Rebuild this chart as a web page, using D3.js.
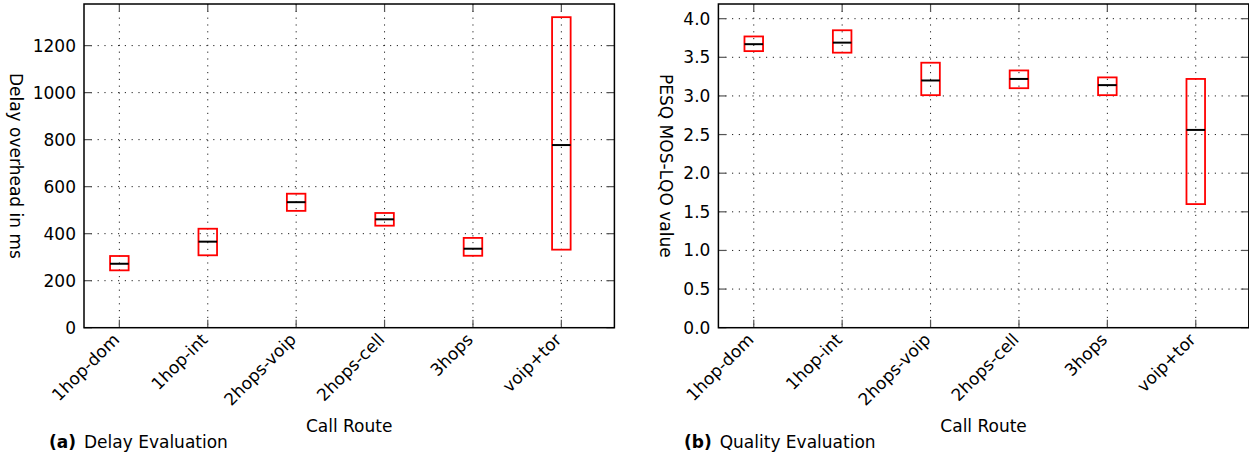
<!DOCTYPE html>
<html>
<head>
<meta charset="UTF-8">
<title>Call route evaluation</title>
<script src="https://d3js.org/d3.v7.min.js"></script>
<style>
    body { margin: 0; background: #fff; }
    svg text { font-family: "DejaVu Sans", sans-serif; fill: #000; }
</style>
</head>
<body>
<svg id="chart" width="1249" height="458"></svg>
<script>
    var routes = ['1hop-dom', '1hop-int', '2hops-voip', '2hops-cell', '3hops', 'voip+tor'];

    // delay overhead (ms): lower quartile, median, upper quartile
    var delayLow = [244, 308, 497, 434, 306, 332];
    var delayMed = [272, 366, 534, 461, 336, 777];
    var delayHigh = [305, 421, 570, 488, 382, 1321];
    var delayTicks = [0, 200, 400, 600, 800, 1000, 1200];

    // PESQ MOS-LQO
    var mosLow = [3.58, 3.56, 3.01, 3.10, 3.01, 1.60];
    var mosMed = [3.67, 3.69, 3.20, 3.22, 3.14, 2.56];
    var mosHigh = [3.77, 3.85, 3.43, 3.33, 3.24, 3.22];
    var mosTicks = [0, 0.5, 1, 1.5, 2, 2.5, 3, 3.5, 4];

    var svg = d3.select('#chart');
    var plotW = 530.4, plotTop = 4, plotBottom = 327.7;
    var fs = '17px';

    function panel(opt) {
        var g = svg.append('g');
        var x = d3.scaleLinear().domain([0.6, 6.6]).range([opt.left, opt.left + plotW]);
        var y = d3.scaleLinear().domain([0, opt.ymax]).range([plotBottom, plotTop]);
        var idx = d3.range(1, routes.length + 1);

        // grid
        g.selectAll('.hgrid').data(opt.ticks.slice(1)).enter().append('line')
            .attr('x1', opt.left).attr('x2', opt.left + plotW)
            .attr('y1', function (d) { return y(d); }).attr('y2', function (d) { return y(d); })
            .attr('stroke', '#222').attr('stroke-width', 1).attr('stroke-dasharray', '1.2,5.6');
        g.selectAll('.vgrid').data(idx).enter().append('line')
            .attr('x1', function (d) { return x(d); }).attr('x2', function (d) { return x(d); })
            .attr('y1', plotTop).attr('y2', plotBottom)
            .attr('stroke', '#222').attr('stroke-width', 1).attr('stroke-dasharray', '1.2,5.6');

        // inward ticks on all sides
        opt.ticks.forEach(function (t) {
            g.append('line').attr('x1', opt.left).attr('x2', opt.left + 8)
                .attr('y1', y(t)).attr('y2', y(t)).attr('stroke', '#555').attr('stroke-width', 1.2);
            g.append('line').attr('x1', opt.left + plotW).attr('x2', opt.left + plotW - 8)
                .attr('y1', y(t)).attr('y2', y(t)).attr('stroke', '#555').attr('stroke-width', 1.2);
        });
        idx.forEach(function (i) {
            g.append('line').attr('x1', x(i)).attr('x2', x(i))
                .attr('y1', plotBottom).attr('y2', plotBottom - 8).attr('stroke', '#555').attr('stroke-width', 1.2);
            g.append('line').attr('x1', x(i)).attr('x2', x(i))
                .attr('y1', plotTop).attr('y2', plotTop + 8).attr('stroke', '#555').attr('stroke-width', 1.2);
        });

        // boxes
        var bw = 0.21;
        g.selectAll('.box').data(idx).enter().append('rect')
            .attr('x', function (d) { return x(d - bw / 2); })
            .attr('width', x(bw) - x(0))
            .attr('y', function (d) { return y(opt.high[d - 1]); })
            .attr('height', function (d) { return y(opt.low[d - 1]) - y(opt.high[d - 1]); })
            .attr('fill', 'none').attr('stroke', '#ff0000').attr('stroke-width', 1.8);
        g.selectAll('.med').data(idx).enter().append('line')
            .attr('x1', function (d) { return x(d - bw / 2); })
            .attr('x2', function (d) { return x(d + bw / 2); })
            .attr('y1', function (d) { return y(opt.med[d - 1]); })
            .attr('y2', function (d) { return y(opt.med[d - 1]); })
            .attr('stroke', '#000').attr('stroke-width', 2);

        // frame
        g.append('rect').attr('x', opt.left).attr('y', plotTop)
            .attr('width', plotW).attr('height', plotBottom - plotTop)
            .attr('fill', 'none').attr('stroke', '#000').attr('stroke-width', 1.5);

        // y tick labels
        g.selectAll('.ylab').data(opt.ticks).enter().append('text')
            .attr('x', opt.left - 8).attr('y', function (d) { return y(d) + 6; })
            .attr('text-anchor', 'end').style('font-size', fs)
            .text(function (d) { return opt.fmt(d); });

        // x tick labels
        g.selectAll('.xlab').data(idx).enter().append('text')
            .attr('text-anchor', 'end').style('font-size', fs)
            .attr('transform', function (d) { return 'translate(' + (x(d) + 1) + ',' + (plotBottom + 13) + ') rotate(-45)'; })
            .text(function (d) { return routes[d - 1]; });

        // axis titles
        g.append('text').attr('text-anchor', 'middle').style('font-size', fs)
            .attr('transform', 'translate(' + opt.ylabX + ',' + ((plotTop + plotBottom) / 2) + ') rotate(90)')
            .text(opt.ylabel);
        g.append('text').attr('x', opt.left + plotW / 2).attr('y', 432)
            .attr('text-anchor', 'middle').style('font-size', fs).text('Call Route');

        // caption
        var cap = g.append('text').attr('x', opt.capX).attr('y', 448).style('font-size', fs);
        cap.append('tspan').style('font-weight', 'bold').text(opt.tag);
        cap.append('tspan').attr('dx', 8).text(opt.caption);
    }

    panel({
        left: 84, ymax: 1377, ticks: delayTicks,
        low: delayLow, med: delayMed, high: delayHigh,
        fmt: d3.format('d'), ylabel: 'Delay overhead in ms', ylabX: 10,
        tag: '(a)', caption: 'Delay Evaluation', capX: 49
    });
    panel({
        left: 718.4, ymax: 4.19, ticks: mosTicks,
        low: mosLow, med: mosMed, high: mosHigh,
        fmt: d3.format('.1f'), ylabel: 'PESQ MOS-LQO value', ylabX: 660,
        tag: '(b)', caption: 'Quality Evaluation', capX: 684
    });
</script>
</body>
</html>
